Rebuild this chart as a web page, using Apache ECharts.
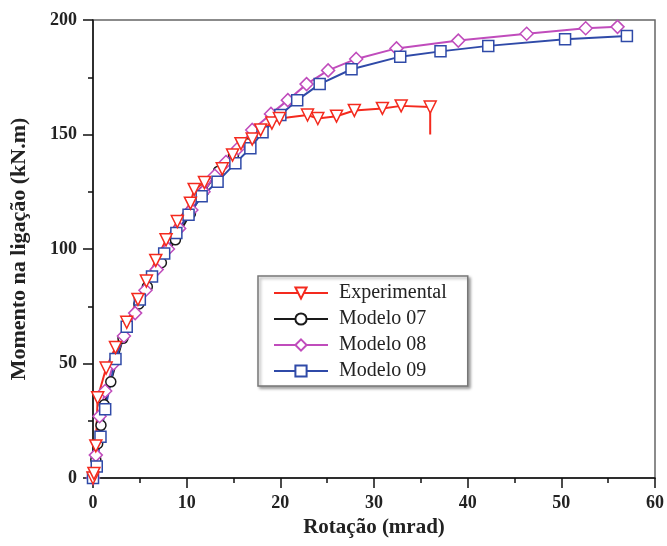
<!DOCTYPE html>
<html>
<head>
<meta charset="utf-8">
<script src="https://cdn.jsdelivr.net/npm/echarts@6/dist/echarts.min.js"></script>
<style>
  html, body { margin: 0; padding: 0; background: #fff; }
  #chart { width: 667px; height: 546px; }
</style>
</head>
<body>
<div id="chart"></div>
<script>
var myChart = echarts.init(document.getElementById("chart"));

// rotação (mrad), momento (kN.m)
const expData = [
  [0, 0], [0.1, 2], [0.3, 14], [0.5, 35], [1.4, 48], [2.4, 57], [3.6, 68],
  [4.8, 78], [5.7, 86], [6.7, 95], [7.8, 104], [9.0, 112], [10.4, 120],
  [10.8, 126], [11.9, 129], [13.8, 135], [14.9, 141], [15.8, 146], [17.0, 148],
  [17.9, 152], [19.1, 155], [19.9, 157], [22.9, 158.5], [24.0, 157], [26.0, 158],
  [27.9, 160.5], [30.9, 161.4], [32.9, 162.5], [36.0, 162], [36.0, 150],
];
const mod07Data = [
  [0, 0], [0.3, 8], [0.5, 15], [0.85, 23], [1.2, 32], [1.9, 42], [3.2, 61],
  [4.9, 76], [5.8, 83.5], [7.3, 94], [8.8, 104], [10.4, 115.5], [11.8, 125],
  [13.4, 134], [15.0, 141], [16.5, 146],
];
const mod08Data = [
  [0, 0], [0.3, 10], [0.7, 27], [1.3, 38], [2.2, 50], [3.3, 62], [4.5, 72],
  [5.6, 82], [6.8, 91], [8.0, 100], [9.2, 109], [10.5, 117], [11.8, 125],
  [13.0, 132], [14.2, 138], [15.5, 144], [17.0, 152], [19.0, 159], [20.8, 165],
  [22.8, 172], [25.1, 178], [28.1, 183], [32.4, 187.6], [39.0, 191],
  [46.3, 194], [52.6, 196.4], [56.0, 197],
];
const mod09Data = [
  [0, 0], [0.4, 5], [0.8, 18], [1.3, 30], [2.4, 52], [3.6, 66], [5.0, 78],
  [6.3, 88], [7.6, 98], [8.9, 107], [10.2, 115], [11.6, 123], [13.3, 129.4],
  [15.2, 137.5], [16.8, 144], [18.1, 151], [20.0, 158.5], [21.8, 165],
  [24.2, 172], [27.6, 178.5], [32.8, 184], [37.1, 186.3], [42.2, 188.7],
  [50.4, 191.6], [57.0, 193],
];

const serif = "Liberation Serif";

function serie(name, data, color, symbol, size) {
  return {
    name: name,
    type: "line",
    data: data,
    symbol: symbol,
    symbolSize: size,
    showAllSymbol: true,
    lineStyle: { color: color, width: 2 },
    itemStyle: { color: "#fff", borderColor: color, borderWidth: 1.5 },
    emphasis: { disabled: true },
  };
}

// última medida do ensaio: queda sem marcador
const expSeriesData = expData.map((p, i) =>
  i === expData.length - 1 ? { value: p, symbol: "none" } : p
);

const axisCommon = {
  axisLine: { show: true, onZero: false, lineStyle: { color: "#111", width: 1.5 } },
  axisTick: { show: true, length: 10, lineStyle: { color: "#111", width: 1.5 } },
  minorTick: { show: true, splitNumber: 2, length: 5, lineStyle: { color: "#111", width: 1.5 } },
  splitLine: { show: false },
};

const option = {
  backgroundColor: "#fff",
  animation: false,
  grid: {
    left: 92,
    right: 10,
    top: 20,
    bottom: 68,
    show: true,
    borderColor: "#666",
    borderWidth: 1.5,
  },
  legend: {
    orient: "vertical",
    left: 258,
    top: 276,
    padding: [7, 21, 5, 15],
    itemWidth: 54,
    itemHeight: 14,
    itemGap: 6,
    backgroundColor: "#fff",
    borderColor: "#777",
    borderWidth: 1.5,
    shadowColor: "rgba(0,0,0,0.35)",
    shadowBlur: 3,
    shadowOffsetX: 2,
    shadowOffsetY: 2,
    data: ["Experimental", "Modelo 07", "Modelo 08", "Modelo 09"],
    textStyle: {
      fontFamily: serif,
      fontSize: 20,
      color: "#222",
      padding: [0, 0, 0, 6],
    },
  },
  xAxis: Object.assign({
    type: "value",
    min: 0,
    max: 60,
    interval: 10,
    name: "Rotação (mrad)",
    nameLocation: "middle",
    nameGap: 34,
    nameTextStyle: { fontFamily: serif, fontWeight: "bold", fontSize: 21, color: "#222" },
    axisLabel: { fontFamily: serif, fontWeight: "bold", fontSize: 18, color: "#222", margin: 16 },
  }, axisCommon),
  yAxis: Object.assign({
    type: "value",
    min: 0,
    max: 200,
    interval: 50,
    name: "Momento na ligação (kN.m)",
    nameLocation: "middle",
    nameGap: 63,
    nameTextStyle: { fontFamily: serif, fontWeight: "bold", fontSize: 22, color: "#222" },
    axisLabel: { fontFamily: serif, fontWeight: "bold", fontSize: 18, color: "#222", margin: 16 },
  }, axisCommon),
  series: [
    serie("Modelo 07", mod07Data, "#1a1a1a", "circle", 10),
    serie("Modelo 08", mod08Data, "#c04cbc", "diamond", 13),
    serie("Modelo 09", mod09Data, "#2f4aa8", "rect", 11),
    serie("Experimental", expSeriesData, "#f42a1e", "triangle", 12),
  ],
};
// triângulo invertido
option.series[3].symbolRotate = 180;

myChart.setOption(option);
</script>
</body>
</html>
